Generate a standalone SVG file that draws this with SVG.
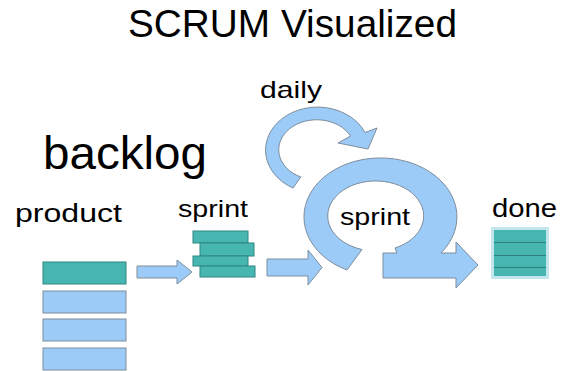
<svg xmlns="http://www.w3.org/2000/svg" width="569" height="371" viewBox="0 0 569 371">
<style>
text{font-family:"Liberation Sans",Arial,sans-serif;fill:#000}
.blue{fill:#9ccbf7;stroke:#7d8d9c;stroke-width:1}
.teal{fill:#48b6b0;stroke:#2c8682;stroke-width:1}
.line{stroke:#2c7f7b;stroke-width:1.2}
</style>
<rect width="569" height="371" fill="#fff"/>
<text x="292.5" y="37" font-size="38.5" text-anchor="middle" textLength="329" lengthAdjust="spacingAndGlyphs">SCRUM Visualized</text>
<g id="backlog">
<text x="43" y="169" font-size="47" textLength="164" lengthAdjust="spacingAndGlyphs">backlog</text>
</g>
<g id="product">
<text x="15" y="222" font-size="25" textLength="107" lengthAdjust="spacingAndGlyphs">product</text>
<rect class="teal" x="43" y="262" width="83" height="22"/>
<rect class="blue" x="43" y="291" width="83" height="22"/>
<rect class="blue" x="43" y="319" width="83" height="22"/>
<rect class="blue" x="43" y="348" width="83" height="22"/>
</g>
<g id="sprint-backlog">
<text x="178" y="217" font-size="24" textLength="70" lengthAdjust="spacingAndGlyphs">sprint</text>
<rect class="teal" x="193" y="231" width="55" height="12"/>
<rect class="teal" x="200" y="243" width="54" height="13"/>
<rect class="teal" x="193" y="256" width="55" height="10"/>
<rect class="teal" x="200" y="266" width="55" height="11"/>
</g>
<g id="connectors">
<path class="blue" d="M137,266 H177 V260 L192,272 L177,284 V278 H137 Z"/>
<path class="blue" d="M267,259 H308 V250 L322,267.5 L308,285 V276 H267 Z"/>
</g>
<g id="daily">
<text x="260" y="98" font-size="24" textLength="62" lengthAdjust="spacingAndGlyphs">daily</text>
<path class="blue" d="M293,188 A52 43 0 1 1 365,132.5 L377,128 L368,149 L338,143 L350.5,136 A38 30 0 1 0 300.8,177 Z"/>
</g>
<g id="sprint">
<path class="blue" d="M347,270 A76.5 59 0 1 1 441,253 L456,253 L456,242 L478,265 L456,288 L456,278 L383,278 L383,253 L397,253 L395,248 A48 35 0 1 0 362,249.5 Z"/>
<text x="340" y="225" font-size="24" textLength="70" lengthAdjust="spacingAndGlyphs">sprint</text>
</g>
<g id="done">
<text x="492" y="217" font-size="26" textLength="65" lengthAdjust="spacingAndGlyphs">done</text>
<rect x="491" y="227" width="58" height="52" fill="#c3e6ee"/>
<rect x="494" y="230" width="52" height="46" fill="#48b6b0"/>
<line class="line" x1="494" y1="242.5" x2="546" y2="242.5"/>
<line class="line" x1="494" y1="255.5" x2="546" y2="255.5"/>
<line class="line" x1="494" y1="267.5" x2="546" y2="267.5"/>
</g>
</svg>
